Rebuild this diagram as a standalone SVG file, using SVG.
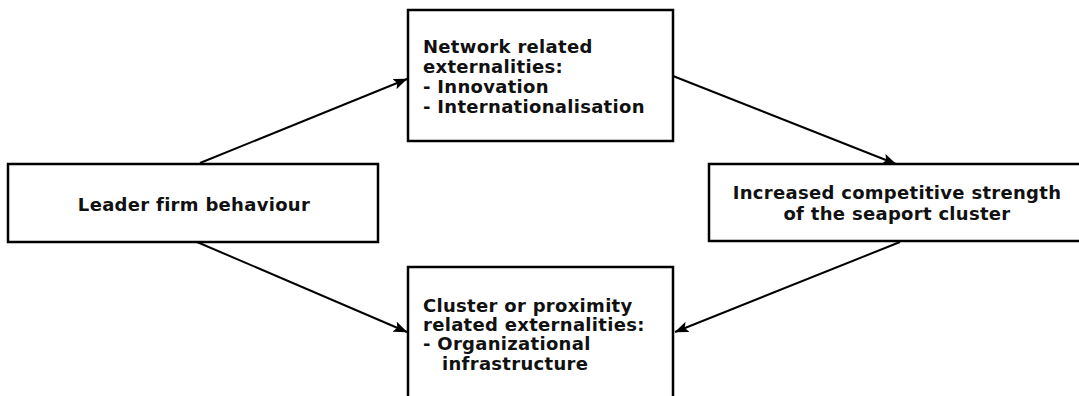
<svg xmlns="http://www.w3.org/2000/svg" width="1079" height="396" viewBox="0 0 1079 396">
  <defs>
    <marker id="arrow" viewBox="0 0 14 11" refX="13.5" refY="5.5" markerWidth="14" markerHeight="11" markerUnits="userSpaceOnUse" orient="auto">
      <path d="M0,0 L14,5.5 L0,11 L3,5.5 Z" fill="#000"/>
    </marker>
    <style>
      .box { fill: #fff; stroke: #000; stroke-width: 2.5; }
      .lbl { font-family: "DejaVu Sans", Verdana, sans-serif; font-weight: bold; font-size: 18px; letter-spacing: 0.3px; fill: #111; }
      .mid { text-anchor: middle; }
      .edge { fill: none; stroke: #000; stroke-width: 2; marker-end: url(#arrow); }
    </style>
  </defs>
  <rect width="1079" height="396" fill="#fff"/>

  <g id="connectors">
    <line class="edge" x1="200" y1="163" x2="407" y2="79"/>
    <line class="edge" x1="673" y1="76" x2="896" y2="164"/>
    <line class="edge" x1="197" y1="242" x2="407" y2="332"/>
    <line class="edge" x1="900" y1="242" x2="675" y2="332"/>
  </g>

  <g id="network-externalities">
    <rect class="box" x="408" y="10" width="265" height="131"/>
    <text class="lbl" x="423" y="53">Network related</text>
    <text class="lbl" x="423" y="73">externalities:</text>
    <text class="lbl" x="423" y="93">- Innovation</text>
    <text class="lbl" x="423" y="113">- Internationalisation</text>
  </g>

  <g id="leader-firm">
    <rect class="box" x="8" y="164" width="370" height="78"/>
    <text class="lbl mid" x="194" y="211">Leader firm behaviour</text>
  </g>

  <g id="competitive-strength">
    <rect class="box" x="709" y="164" width="380" height="77"/>
    <text class="lbl mid" x="897" y="199">Increased competitive strength</text>
    <text class="lbl mid" x="897" y="220">of the seaport cluster</text>
  </g>

  <g id="cluster-externalities">
    <rect class="box" x="408" y="267" width="265" height="140"/>
    <text class="lbl" x="423" y="312">Cluster or proximity</text>
    <text class="lbl" x="423" y="331">related externalities:</text>
    <text class="lbl" x="423" y="350">- Organizational</text>
    <text class="lbl" x="442" y="370">infrastructure</text>
  </g>
</svg>
